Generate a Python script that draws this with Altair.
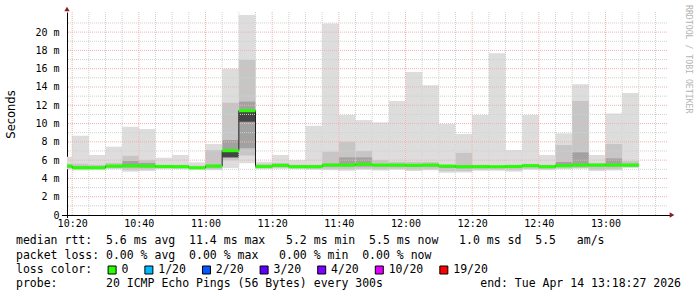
import altair as alt
import pandas as pd

NB = "\u00a0"

# ---------------- data (5-minute buckets, milliseconds) ----------------
n_buckets = 35
bucket_min = [615 + 5 * i for i in range(n_buckets)]          # 10:15 ... 13:05 (minutes of day)

p_min = [5.0, 4.88, 4.95, 5.0, 4.74, 4.8, 5.0, 5.0, 4.95, 4.9,
         5.15, 5.65, 5.0, 5.05, 5.0, 4.95, 4.9, 4.85, 4.95, 4.86,
         4.95, 4.8, 4.9, 4.62, 4.65, 4.83, 4.83, 4.74, 4.95, 4.9,
         5.0, 5.05, 4.8, 4.86, 5.15]
p_max = [6.37, 8.67, 6.56, 7.47, 9.65, 9.4, 6.26, 6.56, 5.76, 7.76,
         16.0, 21.86, 5.83, 6.56, 6.0, 9.76, 20.95, 10.93, 10.38, 10.13,
         12.46, 15.63, 14.2, 9.95, 8.85, 10.93, 17.7, 7.1, 10.93, 6.56,
         8.93, 14.3, 6.56, 11.1, 13.33]
i_lo = [5.1, 5.0, 5.05, 5.1, 4.9, 4.95, 5.1, 5.1, 5.05, 5.0,
        6.0, 6.5, 5.1, 5.15, 5.1, 5.05, 5.05, 5.0, 5.05, 5.0,
        5.05, 4.95, 5.0, 4.8, 4.8, 4.95, 4.95, 4.9, 5.05, 5.0,
        5.1, 5.15, 4.95, 5.0, 5.25]
i_hi = [5.6, 5.6, 5.5, 5.7, 6.48, 6.0, 5.5, 5.5, 5.4, 7.1,
        12.27, 16.94, 5.6, 5.7, 5.5, 5.5, 6.92, 8.0, 7.0, 6.0,
        5.8, 5.8, 5.8, 5.5, 6.8, 5.5, 5.4, 5.5, 5.6, 5.5,
        7.65, 12.46, 5.7, 7.76, 5.9]
c_lo = [5.2, 5.05, 5.05, 5.2, 5.2, 5.2, 5.15, 5.15, 5.05, 5.2,
        6.3, 7.3, 5.15, 5.3, 5.15, 5.15, 5.3, 5.3, 5.3, 5.3,
        5.3, 5.25, 5.3, 5.15, 5.1, 5.15, 5.15, 5.15, 5.25, 5.15,
        5.25, 5.3, 5.3, 5.3, 5.3]
c_hi = [5.45, 5.35, 5.3, 5.45, 5.9, 5.7, 5.4, 5.4, 5.25, 5.5,
        8.2, 12.4, 5.4, 5.55, 5.4, 5.4, 5.6, 6.3, 6.3, 5.55,
        5.55, 5.5, 5.55, 5.4, 5.4, 5.4, 5.35, 5.4, 5.5, 5.4,
        5.8, 6.85, 5.55, 6.19, 5.6]
d_lo = [None] * 10 + [6.3, 10.2] + [None] * 23
d_hi = [None] * 10 + [6.9, 11.4] + [None] * 23
median = [5.35, 5.17, 5.16, 5.35, 5.39, 5.35, 5.3, 5.28, 5.16, 5.35,
          7.03, 11.4, 5.3, 5.43, 5.28, 5.28, 5.46, 5.46, 5.54, 5.46,
          5.46, 5.43, 5.46, 5.35, 5.28, 5.28, 5.28, 5.3, 5.39, 5.28,
          5.39, 5.46, 5.46, 5.46, 5.46]

x_tick_values = [620, 640, 660, 680, 700, 720, 740, 760, 780]
x_tick_labels = ["10:20", "10:40", "11:00", "11:20", "11:40", "12:00", "12:20", "12:40", "13:00"]
y_tick_values = [0, 2, 4, 6, 8, 10, 12, 14, 16, 18, 20]

rtt_stats = ["5.6", "11.4", "5.2", "5.5", "1.0", "5.5"]
loss_stats = ["0.00", "0.00", "0.00", "0.00"]
loss_labels = ["0", "1/20", "2/20", "3/20", "4/20", "10/20", "19/20"]
loss_colors = ["#26ff00", "#00b8ff", "#0059ff", "#5e00ff", "#7e00ff", "#dd00ff", "#ff0000"]
probe_text = "20 ICMP Echo Pings (56 Bytes) every 300s"
end_text = "end: Tue Apr 14 13:18:27 2026"

# ---------------- tables ----------------
df = pd.DataFrame({
    "t0": bucket_min, "t1": [m + 5 for m in bucket_min],
    "p_min": p_min, "p_max": p_max, "i_lo": i_lo, "i_hi": i_hi,
    "c_lo": c_lo, "c_hi": c_hi, "d_lo": d_lo, "d_hi": d_hi, "med": median,
})
df_dark = df.dropna(subset=["d_lo"])

X_DOM = [618.45, 798.45]
W, H = 600, 203
xs = alt.Scale(domain=X_DOM, nice=False, zero=False)
ys = alt.Scale(domain=[0, 22.2], nice=False, zero=True)

MONO = "DejaVu Sans Mono"
x_label_expr = f"{x_tick_labels}[indexof({x_tick_values}, datum.value)]"
y_label_expr = f"datum.value == 0 ? '0{NB}{NB}' : datum.value + '{NB}m'"

X_AX = alt.Axis(values=x_tick_values, labelExpr=x_label_expr, labelFont=MONO, labelFontSize=10,
                labelColor="black", labelPadding=3, ticks=False, grid=False, domainColor="black",
                title="", labelFlush=False, labelOverlap=False)
Y_AX = alt.Axis(values=y_tick_values, labelExpr=y_label_expr, labelFont=MONO, labelFontSize=10,
                labelColor="black", labelPadding=8, ticks=False, grid=False, domainColor="black",
                title="Seconds", titleFont="DejaVu Sans", titleFontSize=11.5, titleFontWeight="normal",
                titleColor="black", titleX=-56, titleY=102, titleAngle=270, titleAlign="center",
                titleBaseline="middle", labelFlush=False, labelOverlap=False)

def X(f):
    return alt.X(f, scale=xs, axis=X_AX, title="")

def Y(f):
    return alt.Y(f, scale=ys, axis=Y_AX, title="Seconds")

def band(lo, hi, color, data=None):
    ch = alt.Chart(df if data is None else data)
    return ch.mark_rect(color=color, clip=True).encode(
        x=X("t0:Q"), x2="t1:Q", y=Y(f"{lo}:Q"), y2=f"{hi}:Q")

outer = band("p_min", "p_max", "#dddddd")
inner = band("i_lo", "i_hi", "#c6c6c6")
core = band("c_lo", "c_hi", "#a2a2a2")
dark = band("d_lo", "d_hi", "#444444", df_dark)

# grid
minor_v = pd.DataFrame({"m": [m for m in range(620, 800, 5) if m % 20 != 0]})
major_v = pd.DataFrame({"m": list(range(620, 800, 20))})
minor_h = pd.DataFrame({"v": list(range(1, 22, 2))})
major_h = pd.DataFrame({"v": list(range(2, 21, 2))})

grid_minor_col = "#d0d0d0"
grid_major_col = "#f0b2b2"
DASH = [1, 1]
g1 = alt.Chart(minor_v).mark_rule(color=grid_minor_col, strokeDash=DASH, strokeWidth=1).encode(x=X("m:Q"))
g2 = alt.Chart(minor_h).mark_rule(color=grid_minor_col, strokeDash=DASH, strokeWidth=1).encode(y=Y("v:Q"))
g3 = alt.Chart(major_v).mark_rule(color=grid_major_col, strokeDash=DASH, strokeWidth=1).encode(x=X("m:Q"))
g4 = alt.Chart(major_h).mark_rule(color=grid_major_col, strokeDash=DASH, strokeWidth=1).encode(y=Y("v:Q"))

step = alt.Chart(df).mark_line(interpolate="step-after", color="#1e1e1e", strokeWidth=1, clip=True).encode(
    x=X("t0:Q"), y=Y("med:Q"))
green = alt.Chart(df).mark_rule(color=loss_colors[0], strokeWidth=3, clip=True).encode(
    x=X("t0:Q"), x2="t1:Q", y=Y("med:Q"))

one = pd.DataFrame({"a": [0]})
arrow_up = alt.Chart(one).mark_point(shape="triangle-up", filled=True, size=28, color="#8a1c1c", opacity=1).encode(
    x=alt.value(0), y=alt.value(-3))
arrow_rt = alt.Chart(one).mark_point(shape="triangle-right", filled=True, size=28, color="#8a1c1c", opacity=1).encode(
    x=alt.value(605), y=alt.value(203))
axis_ext = alt.Chart(one).mark_rule(color="black", strokeWidth=1).encode(
    x=alt.value(-5), x2=alt.value(603), y=alt.value(203.5))
yaxis_ext = alt.Chart(one).mark_rule(color="black", strokeWidth=1).encode(
    x=alt.value(0.5), y=alt.value(203), y2=alt.value(206))

# ---------------- text block ----------------
def nb(s):
    return s.replace(" ", NB)

line1 = nb(f"median rtt:  {rtt_stats[0]} ms avg  {rtt_stats[1]} ms max   {rtt_stats[2]} ms min  "
           f"{rtt_stats[3]} ms now   {rtt_stats[4]} ms sd  {rtt_stats[5]}   am/s")
line2 = nb(f"packet loss: {loss_stats[0]} % avg  {loss_stats[1]} % max   {loss_stats[2]} % min  {loss_stats[3]} % now")
line3 = nb("loss color:")
line4 = nb(f"probe:       {probe_text}")

CW = 6.94
X0 = 16 - 67
LINE_Y = [229, 243.5, 258, 272.3]

def text_line(s, y, x=X0, align="left"):
    return alt.Chart(pd.DataFrame({"s": [s]})).mark_text(
        align=align, baseline="middle", font=MONO, fontSize=11.5, color="black").encode(
        x=alt.value(x), y=alt.value(y), text="s:N")

texts = [text_line(line1, LINE_Y[0]), text_line(line2, LINE_Y[1]),
         text_line(line3, LINE_Y[2]), text_line(line4, LINE_Y[3]),
         text_line(nb(end_text), LINE_Y[3], x=681 - 67, align="right")]

# legend layout in character columns, converted to x-scale units
def px_to_min(px):
    return X_DOM[0] + px / W * (X_DOM[1] - X_DOM[0])

col = 13.2
sq_x, lab_x = [], []
for lab in loss_labels:
    sq_x.append(px_to_min(X0 + col * CW + 4.5))
    lab_x.append(px_to_min(X0 + (col + 2) * CW))
    col += 2 + len(lab) + 2.3
leg = pd.DataFrame({"label": loss_labels, "color": loss_colors, "sx": sq_x, "lx": lab_x})
leg_sq = alt.Chart(leg).mark_square(size=64, filled=True, stroke="black", strokeWidth=1, opacity=1).encode(
    x=X("sx:Q"), y=alt.value(LINE_Y[2]), fill=alt.Color("color:N", scale=None))
leg_tx = alt.Chart(leg).mark_text(align="left", baseline="middle", font=MONO, fontSize=11.5, color="black").encode(
    x=X("lx:Q"), y=alt.value(LINE_Y[2]), text="label:N")

credit = alt.Chart(pd.DataFrame({"s": [nb("RRDTOOL / TOBI OETIKER")]})).mark_text(
    angle=90, align="left", baseline="middle", font=MONO, fontSize=8.2, color="#b4b4b4").encode(
    x=alt.value(688 - 67), y=alt.value(5 - 12), text="s:N")

chart = alt.layer(
    outer, inner, core, dark, g1, g2, g3, g4, step, green, axis_ext, yaxis_ext, arrow_up, arrow_rt,
    *texts, leg_sq, leg_tx, credit,
).properties(
    width=W, height=H,
    padding={"left": 67, "top": 12, "right": 30, "bottom": 82},
    autosize=alt.AutoSizeParams(type="none"),
    background="white",
).configure_view(stroke=None)

chart.save("out.html", embed_options={"renderer": "svg", "actions": False})
